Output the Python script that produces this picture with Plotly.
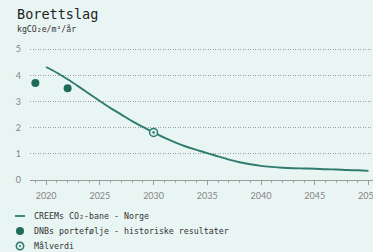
import plotly.graph_objects as go

# ---- data ----
path_years = list(range(2020, 2051))
path_values = [4.32, 4.10, 3.85, 3.58, 3.30, 3.02, 2.75, 2.50, 2.25, 2.03, 1.82,
               1.62, 1.44, 1.28, 1.15, 1.03, 0.90, 0.78, 0.68, 0.60, 0.54,
               0.50, 0.47, 0.45, 0.44, 0.43, 0.41, 0.40, 0.38, 0.37, 0.35]
hist_years = [2019, 2022]
hist_values = [3.71, 3.51]
target_years = [2030]
target_values = [1.82]
x_ticks = [2020, 2025, 2030, 2035, 2040, 2045, 2050]
y_ticks = [0, 1, 2, 3, 4, 5]
legend_labels = ["CREEMs CO\u2082-bane - Norge",
                 "DNBs portefølje - historiske resultater",
                 "Målverdi"]
title_text = "Borettslag"
unit_text = "kgCO\u2082e/m\u00b2/år"

W, H = 373, 252
ML, MR, MT, MB = 30, 0, 44, 72
PW, PH = W - ML - MR, H - MT - MB

def px(x):
    return (x - ML) / PW

def py(y):
    return (H - MB - y) / PH

BG = "#e9f5f3"
LINE = "#2f7b6f"
DOT = "#1e6b5c"
MONO = "DejaVu Sans Mono"
SANS = "Lato, Open Sans, sans-serif"

fig = go.Figure()
fig.add_trace(go.Scatter(x=path_years, y=path_values, mode="lines",
                         line=dict(color=LINE, width=1.9, shape="spline"),
                         showlegend=False))
fig.add_trace(go.Scatter(x=hist_years, y=hist_values, mode="markers",
                         marker=dict(color=DOT, size=8), showlegend=False))
fig.add_trace(go.Scatter(x=target_years, y=target_values, mode="markers",
                         marker=dict(symbol="circle-dot", color="#dff0ec", size=8,
                                     line=dict(color=LINE, width=1.5)),
                         showlegend=False))

fig.update_layout(
    width=W, height=H,
    margin=dict(l=ML, r=MR, t=MT, b=MB, autoexpand=False),
    paper_bgcolor=BG, plot_bgcolor=BG,
    xaxis=dict(range=[2018.5, 2050.42], tickvals=x_ticks, ticks="outside",
               ticklen=4, tickcolor="#999", tickwidth=1,
               minor=dict(dtick=1, ticks="outside", ticklen=2, tickcolor="#aaa"),
               showline=True, linecolor="#999", linewidth=1.2,
               showgrid=False, zeroline=False, ticklabeloverflow="allow",
               automargin=False, ticklabelstandoff=3,
               tickfont=dict(family=SANS, size=9, color="#858585")),
    yaxis=dict(range=[0, 5.2], tickvals=y_ticks, showgrid=True,
               gridcolor="#a0a0a0", griddash="1px,1.5px", gridwidth=1,
               zeroline=False, showline=False, ticks="",
               ticklabelstandoff=8, automargin=False,
               tickfont=dict(family=SANS, size=9, color="#858585")),
)

ann = [
    dict(x=px(15), y=py(14), text=title_text, xanchor="left", yanchor="middle",
         font=dict(family=MONO, size=13.5, color="#222")),
    dict(x=px(15), y=py(29), text=unit_text, xanchor="left", yanchor="middle",
         font=dict(family=MONO, size=8.2, color="#333")),
]
rows = [216, 231, 246]
for lbl, ry in zip(legend_labels, rows):
    ann.append(dict(x=px(32), y=py(ry), text=lbl, xanchor="left", yanchor="middle",
                    font=dict(family=MONO, size=8.3, color="#333")))
for a in ann:
    a.update(xref="paper", yref="paper", showarrow=False)
fig.update_layout(annotations=ann)

shapes = [
    dict(type="line", xref="paper", yref="paper", x0=px(15), x1=px(25),
         y0=py(rows[0]), y1=py(rows[0]), line=dict(color=LINE, width=1.8)),
    dict(type="circle", xref="paper", yref="paper", xsizemode="pixel", ysizemode="pixel",
         xanchor=px(20), yanchor=py(rows[1]), x0=-4, x1=4, y0=-4, y1=4,
         fillcolor=DOT, line=dict(color=DOT, width=0)),
    dict(type="circle", xref="paper", yref="paper", xsizemode="pixel", ysizemode="pixel",
         xanchor=px(20), yanchor=py(rows[2]), x0=-3.7, x1=3.7, y0=-3.7, y1=3.7,
         fillcolor="#dff0ec", line=dict(color=LINE, width=1.5)),
    dict(type="circle", xref="paper", yref="paper", xsizemode="pixel", ysizemode="pixel",
         xanchor=px(20), yanchor=py(rows[2]), x0=-1, x1=1, y0=-1, y1=1,
         fillcolor=LINE, line=dict(color=LINE, width=0)),
]
fig.update_layout(shapes=shapes)

fig.write_html("out.html", config={"displayModeBar": False},
               post_script="document.body.style.margin='0';"
                           "document.body.style.background='%s';" % BG)
